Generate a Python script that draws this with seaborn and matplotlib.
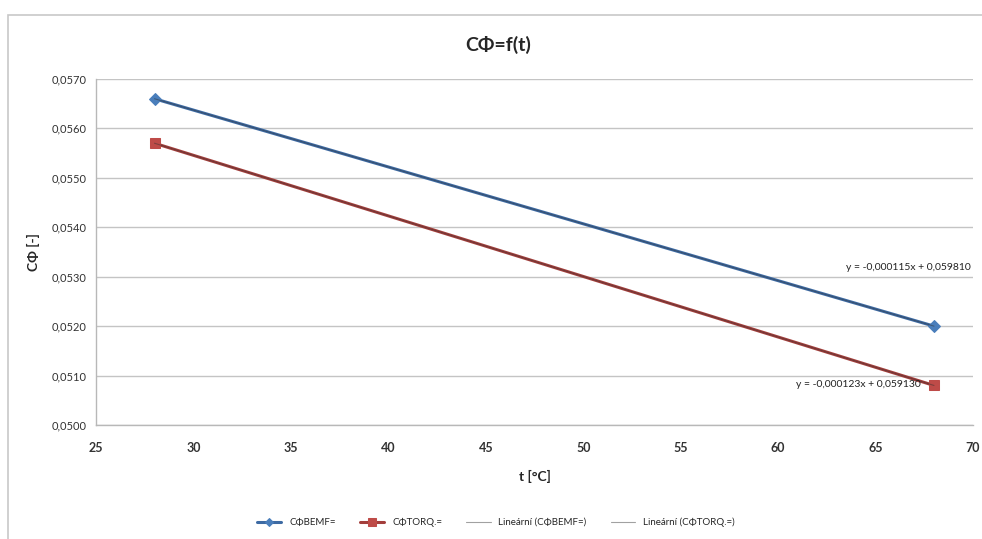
import matplotlib
matplotlib.use('Agg')

import seaborn as sns
import numpy as np
import pandas as pd
import matplotlib.pyplot as plt
from matplotlib.patches import Rectangle
from matplotlib.ticker import FuncFormatter, MultipleLocator

t_values = [28, 68]
bemf_values = [0.0566, 0.0520]
torq_values = [0.0557, 0.0508]
series_names = ['CΦBEMF=', 'CΦTORQ.=']
trend_names = ['Lineární (CΦBEMF=)', 'Lineární (CΦTORQ.=)']
eq_labels = ['y = -0,000115x + 0,059810', 'y = -0,000123x + 0,059130']

BLUE = '#4a7ebb'
BLUE_LINE = '#3d6aa3'
RED = '#be4b48'
RED_LINE = '#a33e3b'

sns.set_theme(style='white')
plt.rcParams['font.family'] = ['Lato', 'DejaVu Sans']

fig = plt.figure(figsize=(9.82, 5.39), dpi=100)
ax = fig.add_axes([0.0978, 0.2115, 0.893, 0.642])

df = pd.DataFrame({'t': t_values * 2,
                   'value': bemf_values + torq_values,
                   'series': [series_names[0]] * 2 + [series_names[1]] * 2})

sns.lineplot(data=df[df.series == series_names[0]], x='t', y='value', ax=ax,
             color=BLUE_LINE, lw=2.2, marker='D', markersize=6.5,
             markerfacecolor=BLUE, markeredgecolor=BLUE, label=series_names[0])
sns.lineplot(data=df[df.series == series_names[1]], x='t', y='value', ax=ax,
             color=RED_LINE, lw=2.2, marker='s', markersize=7.5,
             markerfacecolor=RED, markeredgecolor=RED, label=series_names[1])

# linear trend lines
xs = np.array([min(t_values), max(t_values)])
for vals, name in zip([bemf_values, torq_values], trend_names):
    k, q = np.polyfit(t_values, vals, 1)
    ax.plot(xs, k * xs + q, color='#303030', lw=0.8, alpha=0.45, label=name)

ax.text(69.9, 0.05318, eq_labels[0], fontsize=7.5, ha='right', va='center', color='#222222')
ax.text(67.3, 0.05081, eq_labels[1], fontsize=7.5, ha='right', va='center', color='#222222')

ax.set_xlim(25, 70)
ax.set_ylim(0.0500, 0.0570)
ax.xaxis.set_major_locator(MultipleLocator(5))
ax.yaxis.set_major_locator(MultipleLocator(0.001))
ax.yaxis.set_major_formatter(FuncFormatter(lambda v, p: f'{v:.4f}'.replace('.', ',')))
ax.grid(axis='y', color='#c4c4c4', lw=1)
ax.set_axisbelow(True)

for s in ['top', 'right']:
    ax.spines[s].set_visible(False)
for s in ['left', 'bottom']:
    ax.spines[s].set_color('#b8b8b8')
    ax.spines[s].set_linewidth(1)
ax.tick_params(axis='both', direction='out', length=4, width=1, color='#b8b8b8')
ax.tick_params(axis='y', labelsize=8, labelcolor='#333333', pad=3)
ax.tick_params(axis='x', labelsize=9, labelcolor='#333333', pad=8)
for lab in ax.get_xticklabels():
    lab.set_fontweight('bold')

ax.set_xlabel('t [°C]', fontsize=10, fontweight='bold', labelpad=12)
ax.set_ylabel('CΦ [-]', fontsize=10, fontweight='bold', labelpad=8)
fig.text(0.507, 0.917, 'CΦ=f(t)', fontsize=14, fontweight='bold', ha='center', va='center')

handles, labels = ax.get_legend_handles_labels()
fig.legend(handles, labels, loc='center', bbox_to_anchor=(0.505, 0.031), ncol=4,
           frameon=False, fontsize=7, handlelength=2.5, columnspacing=2.5, markerscale=0.7)
if ax.get_legend():
    ax.get_legend().remove()

fig.patches.append(Rectangle((0.008, -0.2), 1.2, 1.172, transform=fig.transFigure,
                             fill=False, edgecolor='#c8c8c8', lw=1.2, clip_on=False))

fig.savefig('out.png', dpi=100)
